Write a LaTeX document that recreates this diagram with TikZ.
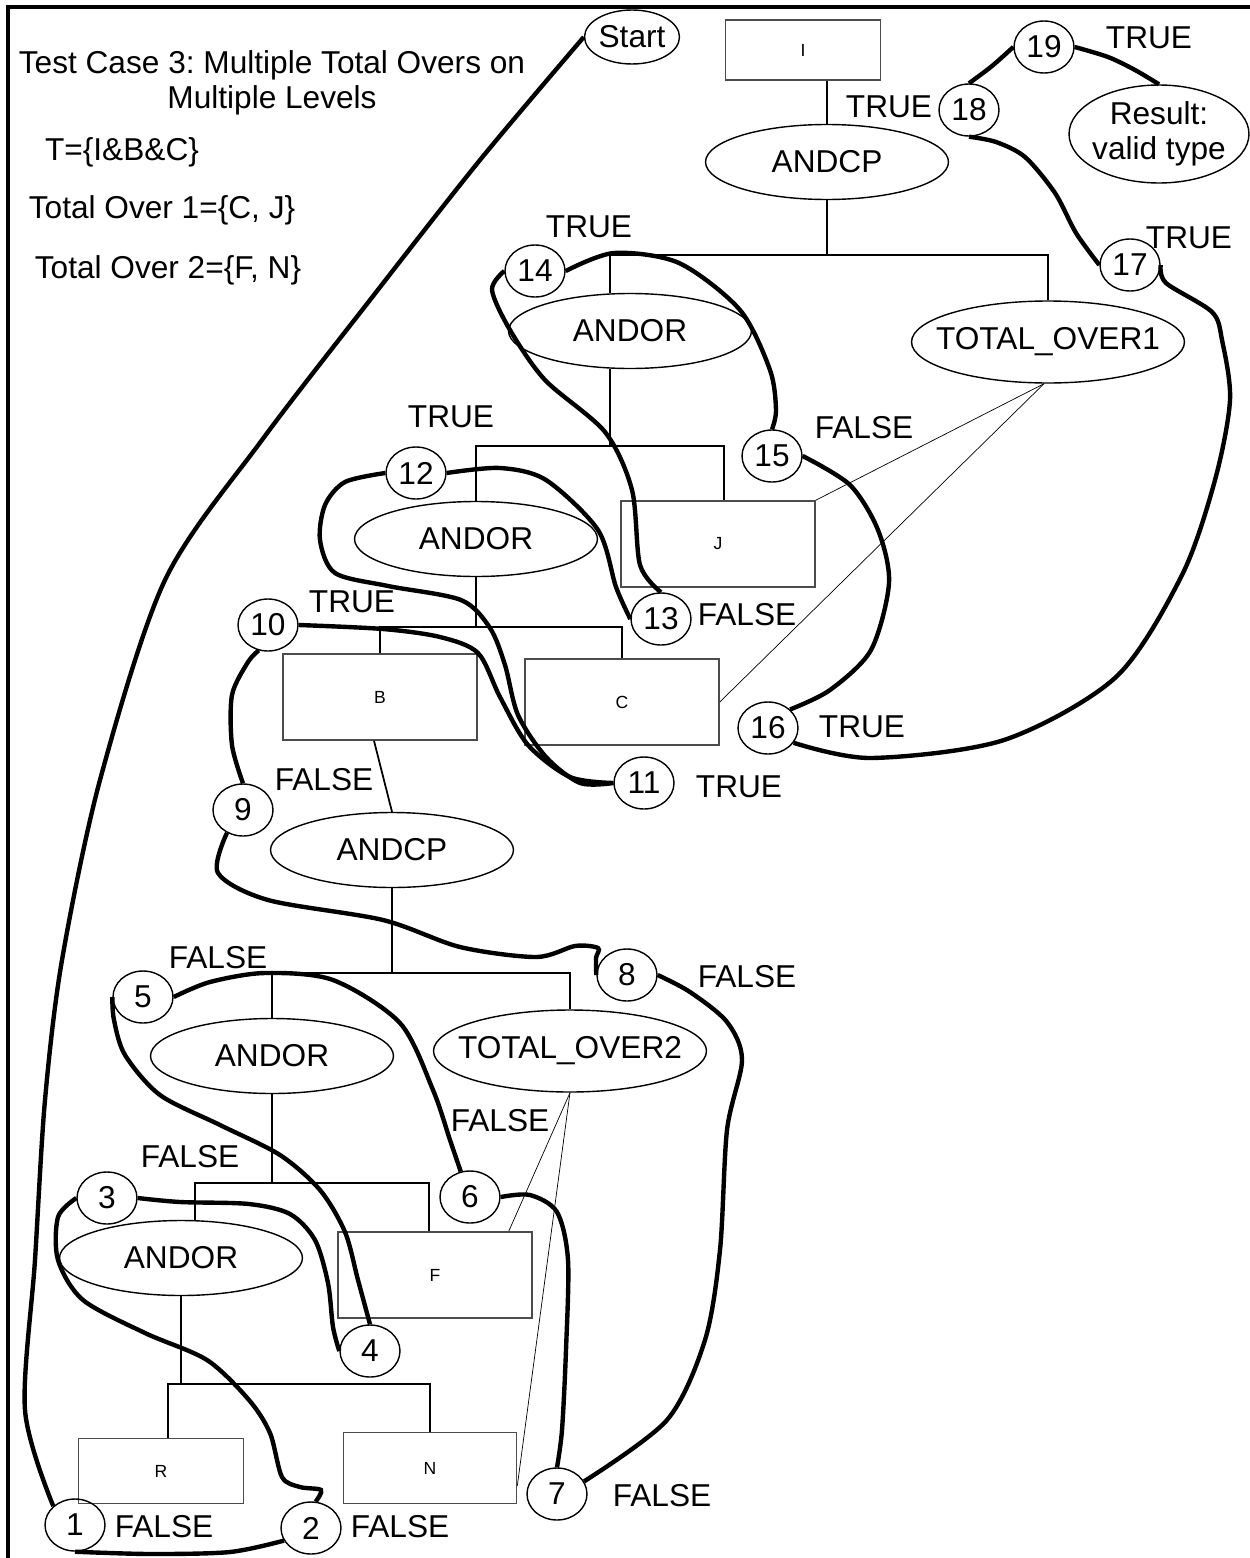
\documentclass[tikz,border=0pt]{standalone}
\usepackage{fontspec}
\setmainfont{Liberation Sans}
\usetikzlibrary{shapes.geometric,calc}
\frenchspacing
\newcommand{\bigtxt}{\fontsize{18}{20}\selectfont}
\newcommand{\boxtxt}{\fontsize{10}{12}\selectfont}
\newcommand{\ctext}[1]{\makebox[0pt]{#1}}

\begin{document}
\begin{tikzpicture}[x=0.02cm, y=-0.02cm,
  leaf/.style={draw=black!70, line width=0.9pt, minimum width=3.88cm, minimum height=1.72cm, inner sep=0pt, font=\boxtxt},
  gate/.style={ellipse, draw, line width=0.8pt, minimum width=4.86cm, minimum height=1.5cm, inner sep=0pt, font=\bigtxt},
  wide gate/.style={gate, minimum width=5.46cm, minimum height=1.64cm},
  visit/.style={ellipse, draw, line width=0.8pt, minimum width=1.2cm, minimum height=1.04cm, inner sep=0pt, font=\bigtxt},
  verdict/.style={font=\bigtxt},
  branch/.style={line width=1pt},
  trail/.style={line width=2.5pt}]
  \useasboundingbox (0,0) rectangle (1250,1558);
  \draw[line width=1.8pt] (1250,7) -- (8,7) -- (8,1558);

  % notes in the corner
  \node[font=\bigtxt, align=center] (title) at (272,83) {Test Case 3: Multiple Total Overs on\\Multiple Levels};
  \node[font=\bigtxt] (tset) at (122,152) {T=\{I\&B\&C\}};
  \node[font=\bigtxt] (over1) at (162,210) {Total Over 1=\{C, J\}};
  \node[font=\bigtxt] (over2) at (168,270) {Total Over 2=\{F, N\}};

  % types
  \node[leaf, minimum width=3.1cm, minimum height=1.2cm] (I) at (803,50) {I};
  \node[leaf] (J) at (718,544) {J};
  \node[leaf] (B) at (380,697) {B};
  \node[leaf] (C) at (622,702) {C};
  \node[leaf] (F) at (435,1275) {F};
  \node[leaf, minimum width=3.3cm, minimum height=1.3cm] (R) at (161,1471) {R};
  \node[leaf, minimum width=3.46cm, minimum height=1.42cm] (N) at (430,1468) {N};

  % operators
  \node[gate] (andcpA) at (827,162) {\ctext{ANDCP}};
  \node[gate] (andorA) at (630,331) {\ctext{ANDOR}};
  \node[wide gate] (overA) at (1048,342) {\ctext{TOTAL\_OVER1}};
  \node[gate] (andorB) at (476,539) {\ctext{ANDOR}};
  \node[gate] (andcpB) at (392,850) {\ctext{ANDCP}};
  \node[gate] (andorC) at (272,1056) {\ctext{ANDOR}};
  \node[wide gate] (overB) at (570,1051) {\ctext{TOTAL\_OVER2}};
  \node[gate] (andorD) at (181,1258) {\ctext{ANDOR}};

  \node[visit, minimum width=1.9cm, minimum height=1.08cm] (start) at (632,37) {\ctext{Start}};
  \node[visit, minimum width=3.6cm, minimum height=1.96cm, align=center] (result) at (1159,134) {\ctext{Result:}\\\ctext{valid type}};

  % tree
  \draw[branch] (andcpA.north) -- (andcpA.north |- I.south);
  \draw[branch] (andcpA.south) -- (andcpA.south |- 0,255) coordinate (barA);
  \draw[branch] ($(andorA.north)+(-20,0)$) |- (barA) -| (overA.north);
  \draw[branch] ($(andorA.south)+(-20,0)$) -- ++(0,77) coordinate (barB);
  \draw[branch] (andorB.north) |- (barB) -| ($(J.north)+(6,0)$);
  \draw[branch] (andorB.south) -- ++(0,50) coordinate (barC);
  \draw[branch] (B.north) |- (barC) -| (C.north);
  \draw[branch] ($(B.south)+(-6,0)$) -- (andcpB.north);
  \draw[branch] (andcpB.south) -- ++(0,85) coordinate (barD);
  \draw[branch] (andorC.north) |- (barD) -| (overB.north);
  \draw[branch] (andorC.south) -- ++(0,89) coordinate (barE);
  \draw[branch] ($(andorD.north)+(14,0)$) |- (barE) -| ($(F.north)+(-6,0)$);
  \draw[branch] (andorD.south) -- ++(0,88) coordinate (barF);
  \draw[branch] ($(R.north)+(7,0)$) |- (barF) -| (N.north);

  % total over links
  \draw[thin] ($(overA.south)+(-4,0)$) -- (J.north east);
  \draw[thin] ($(overA.south)+(-4,0)$) -- (C.east);
  \draw[thin] (overB.south) -- ($(F.north east)+(-24,0)$);
  \draw[thin] (overB.south) -- ($(N.east)+(0,18)$);

  % visit order
  \foreach \k/\x/\y in {1/75/1525, 2/311/1528, 3/107/1198, 4/370/1351, 5/143/997,
      6/470/1197, 7/557/1494, 8/627/975, 9/243/810, 10/268/625, 11/644/783,
      12/416/473, 13/661/619, 14/535/271, 15/772/456, 16/768/728, 17/1130/265,
      18/969/110, 19/1044/47}
    \node[visit] (n\k) at (\x,\y) {\k};

  \foreach \k/\x/\y/\t in {1/164/1527/FALSE, 2/400/1527/FALSE, 3/190/1157/FALSE,
      5/218/958/FALSE, 6/500/1121/FALSE, 7/662/1496/FALSE, 8/747/977/FALSE,
      9/324/780/FALSE, 10/352/602/TRUE, 11/739/787/TRUE, 12/451/417/TRUE,
      13/747/615/FALSE, 14/589/227/TRUE, 15/864/428/FALSE, 16/862/727/TRUE,
      17/1189/238/TRUE, 18/889/107/TRUE, 19/1149/38/TRUE}
    \node[verdict] (v\k) at (\x,\y) {\t};

  % the walk
  \draw[trail] plot[smooth] coordinates {(start.west) (480,160) (370,300) (262,440) (165,580) (100,780) (62,960) (45,1100) (35,1260) (25,1410) (n1.north west)};
  \draw[trail] plot[smooth] coordinates {(n1.south) (150,1554) (230,1552) (n2.205)};
  \draw[trail] plot[smooth] coordinates {(n2.80) (321,1490) (300,1487) (282,1477) (270,1433) (249,1400) (207,1360) (145,1333) (83,1300) (58,1260) (58,1217) (n3.west)};
  \draw[trail] plot[smooth] coordinates {(n3.east) (180,1202) (249,1204) (290,1214) (315,1240) (328,1283) (333,1327) (n4.west)};
  \draw[trail] plot[smooth] coordinates {(n4.north) (358,1280) (345,1232) (320,1190) (280,1155) (220,1125) (160,1095) (125,1055) (114,1020) (n5.west)};
  \draw[trail] plot[smooth] coordinates {(n5.east) (210,982) (265,973) (333,980) (400,1023) (433,1090) (450,1140) (n6.110)};
  \draw[trail] plot[smooth] coordinates {(n6.east) (530,1195) (557,1212) (568,1260) (566,1350) (562,1430) (n7.north)};
  \draw[trail] plot[smooth] coordinates {(n7.25) (667,1420) (705,1340) (720,1250) (727,1130) (742,1060) (727,1022) (690,992) (n8.east)};
  \draw[trail] plot[smooth] coordinates {(n8.west) (596,958) (598,948) (575,946) (536,957) (460,947) (383,920) (268,900) (218,873) (n9.235)};
  \draw[trail] plot[smooth] coordinates {(n9.north) (232,745) (232,695) (248,662) (n10.250)};
  \draw[trail] plot[smooth] coordinates {(n10.east) (383,629) (440,637) (478,653) (500,697) (528,745) (570,777) (n11.west)};
  \draw[trail] plot[smooth] coordinates {(n11.west) (580,783) (546,757) (518,715) (505,665) (490,628) (461,600) (388,586) (335,573) (320,540) (325,505) (345,482) (n12.west)};
  \draw[trail] plot[smooth] coordinates {(n12.east) (500,468) (546,480) (598,530) (616,587) (n13.west)};
  \draw[trail] plot[smooth] coordinates {(n13.north) (640,565) (632,490) (605,432) (545,380) (510,330) (492,290) (n14.west)};
  \draw[trail] plot[smooth] coordinates {(n14.east) (614,253) (679,263) (740,310) (770,370) (776,410) (n15.north)};
  \draw[trail] plot[smooth] coordinates {(n15.east) (850,485) (878,530) (889,583) (871,650) (830,690) (n16.40)};
  \draw[trail] plot[smooth] coordinates {(n16.-30) (871,758) (1004,740) (1116,677) (1182,575) (1215,480) (1230,400) (1222,340) (1212,312) (1166,283) (n17.east)};
  \draw[trail] plot[smooth] coordinates {(n17.west) (1076,233) (1055,193) (1025,157) (996,142) (n18.south)};
  \draw[trail] plot[smooth] coordinates {(n18.north) (992,66) (n19.west)};
  \draw[trail] plot[smooth] coordinates {(n19.east) (1108,57) (1135,70) (result.north)};
\end{tikzpicture}
\end{document}
